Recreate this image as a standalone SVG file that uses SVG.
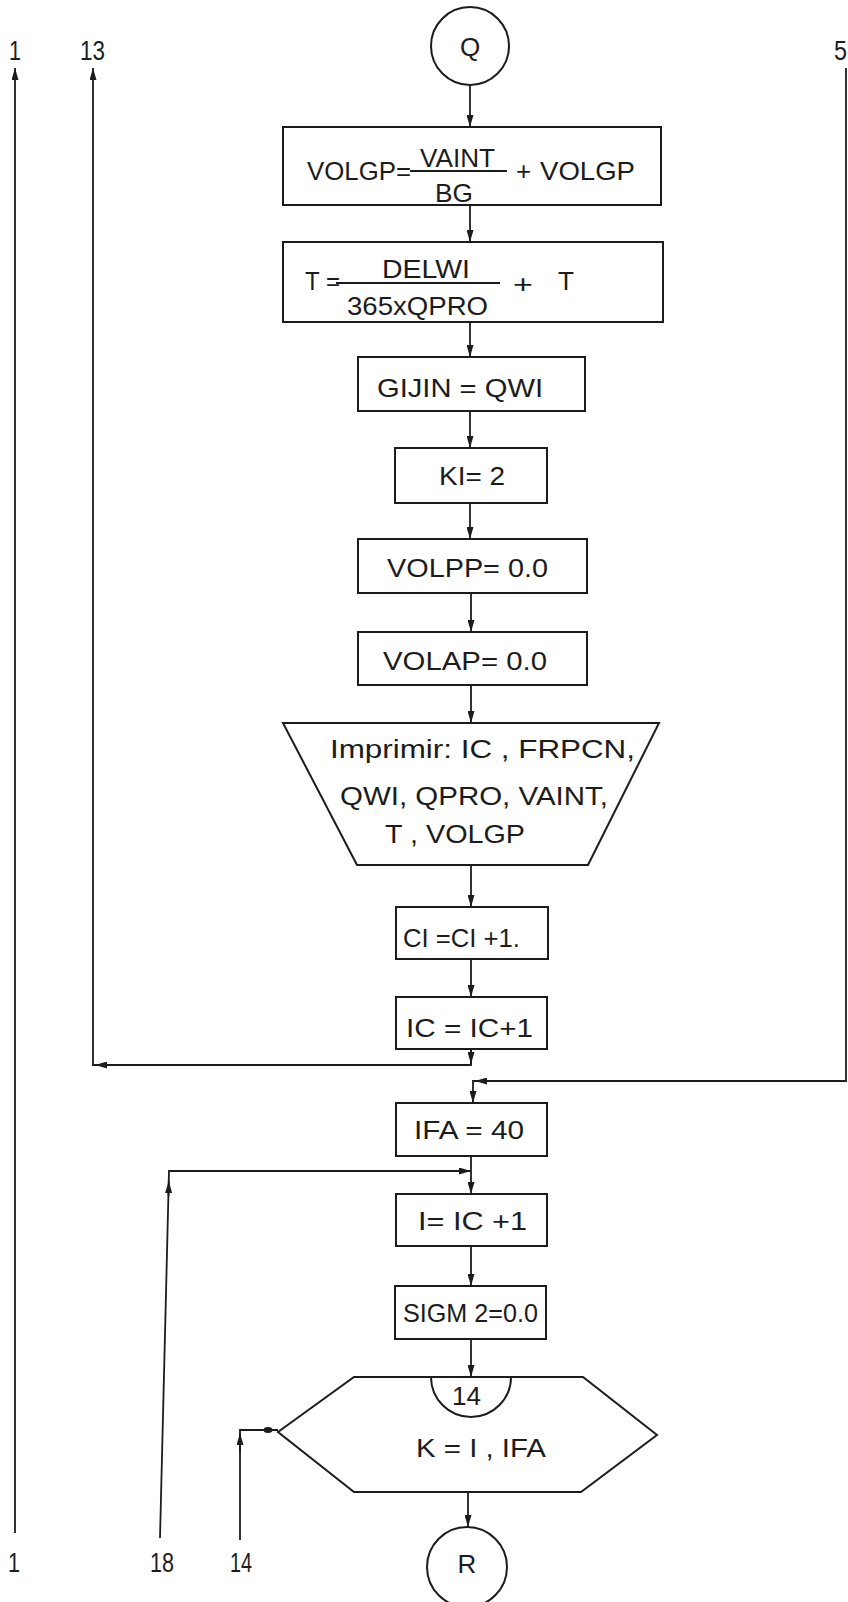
<svg xmlns="http://www.w3.org/2000/svg" width="848" height="1602" viewBox="0 0 848 1602">
<style>
.b{fill:none;stroke:#1c1c1c;stroke-width:2}
.c{fill:none;stroke:#1c1c1c;stroke-width:1.8}
.t{font-family:"Liberation Sans",Arial,sans-serif;font-size:26px;fill:#1c1c1c}
.l{font-family:"Liberation Sans",Arial,sans-serif;font-size:27px;fill:#1c1c1c}
</style>
<defs>
<marker id="ah" viewBox="0 0 12 7" refX="12" refY="3.5" markerWidth="12" markerHeight="7" markerUnits="userSpaceOnUse" orient="auto">
<path d="M0,0 L12,3.5 L0,7 z" fill="#1c1c1c"/>
</marker>
</defs>
<rect width="848" height="1602" fill="#fff"/>

<g id="connectors">
<path class="c" d="M470,85 V127" marker-end="url(#ah)"/>
<path class="c" d="M470,205 V242" marker-end="url(#ah)"/>
<path class="c" d="M470,322 V357" marker-end="url(#ah)"/>
<path class="c" d="M470,411 V448" marker-end="url(#ah)"/>
<path class="c" d="M470,503 V539" marker-end="url(#ah)"/>
<path class="c" d="M471,593 V632" marker-end="url(#ah)"/>
<path class="c" d="M471,685 V723" marker-end="url(#ah)"/>
<path class="c" d="M471,865 V907" marker-end="url(#ah)"/>
<path class="c" d="M471,959 V997" marker-end="url(#ah)"/>
<path class="c" d="M471,1049 V1065 H93 V68" marker-end="url(#ah)"/>
<path class="c" d="M471,1050 V1064" marker-end="url(#ah)"/>
<path class="c" d="M118,1065 H95" marker-end="url(#ah)"/>
<path class="c" d="M846,68 V1081 H473 V1103" marker-end="url(#ah)"/>
<path class="c" d="M500,1081 H475" marker-end="url(#ah)"/>
<path class="c" d="M471,1156 V1194" marker-end="url(#ah)"/>
<path class="c" d="M160,1538 L169,1171 H471" marker-end="url(#ah)"/>
<path class="c" d="M168.5,1196 L168.8,1181" marker-end="url(#ah)"/>
<path class="c" d="M471,1246 V1286" marker-end="url(#ah)"/>
<path class="c" d="M471,1339 V1377" marker-end="url(#ah)"/>
<path class="c" d="M240,1540 V1430 H278"/>
<path class="c" d="M240,1452 V1433" marker-end="url(#ah)"/>
<ellipse cx="268" cy="1430" rx="4.5" ry="3" fill="#1c1c1c"/>
<path class="c" d="M468,1492 V1527" marker-end="url(#ah)"/>
<path class="c" d="M15,1533 V68" marker-end="url(#ah)"/>
</g>

<g id="labels">
<text class="l" x="9" y="60" textLength="12" lengthAdjust="spacingAndGlyphs">1</text>
<text class="l" x="80" y="60" textLength="25" lengthAdjust="spacingAndGlyphs">13</text>
<text class="l" x="834" y="60" textLength="13" lengthAdjust="spacingAndGlyphs">5</text>
<text class="l" x="8" y="1572" textLength="12" lengthAdjust="spacingAndGlyphs">1</text>
<text class="l" x="150" y="1572" textLength="24" lengthAdjust="spacingAndGlyphs">18</text>
<text class="l" x="230" y="1572" textLength="22" lengthAdjust="spacingAndGlyphs">14</text>
</g>

<g id="node-Q">
<circle class="b" cx="470" cy="46" r="39"/>
<text class="t" x="470" y="56" text-anchor="middle">Q</text>
</g>

<g id="node-volgp">
<rect class="b" x="283" y="127" width="378" height="78"/>
<text class="t" x="307" y="180" font-size="29" textLength="104" lengthAdjust="spacingAndGlyphs">VOLGP=</text>
<text class="t" x="420" y="167" font-size="29" textLength="75" lengthAdjust="spacingAndGlyphs">VAINT</text>
<line class="c" x1="410" y1="171" x2="507" y2="171"/>
<text class="t" x="435" y="202" font-size="27" textLength="38" lengthAdjust="spacingAndGlyphs">BG</text>
<text class="t" x="516" y="180" font-size="26">+</text>
<text class="t" x="540" y="180" font-size="29" textLength="95" lengthAdjust="spacingAndGlyphs">VOLGP</text>
</g>

<g id="node-t">
<rect class="b" x="283" y="242" width="380" height="80"/>
<text class="t" x="305" y="290" font-size="28" textLength="35" lengthAdjust="spacingAndGlyphs">T =</text>
<line class="c" x1="336" y1="283" x2="500" y2="283"/>
<text class="t" x="382" y="278" font-size="28" textLength="88" lengthAdjust="spacingAndGlyphs">DELWI</text>
<text class="t" x="347" y="315" font-size="26" textLength="141" lengthAdjust="spacingAndGlyphs">365xQPRO</text>
<text class="t" x="513" y="293" font-size="28" textLength="20" lengthAdjust="spacingAndGlyphs">+</text>
<text class="t" x="558" y="290" font-size="28" textLength="16" lengthAdjust="spacingAndGlyphs">T</text>
</g>

<g id="node-giijn">
<rect class="b" x="358" y="357" width="227" height="54"/>
<text class="t" x="377" y="397" font-size="28" textLength="166" lengthAdjust="spacingAndGlyphs">GIJIN = QWI</text>
</g>

<g id="node-ki">
<rect class="b" x="395" y="448" width="152" height="55"/>
<text class="t" x="439" y="485" textLength="66" lengthAdjust="spacingAndGlyphs">KI= 2</text>
</g>

<g id="node-volpp">
<rect class="b" x="358" y="539" width="229" height="54"/>
<text class="t" x="387" y="577" textLength="161" lengthAdjust="spacingAndGlyphs">VOLPP= 0.0</text>
</g>

<g id="node-volap">
<rect class="b" x="358" y="632" width="229" height="53"/>
<text class="t" x="383" y="670" textLength="164" lengthAdjust="spacingAndGlyphs">VOLAP= 0.0</text>
</g>

<g id="node-imprimir">
<polygon class="b" points="283,723 659,723 588,865 357,865"/>
<text class="t" x="330" y="758" textLength="305" lengthAdjust="spacingAndGlyphs">Imprimir: IC , FRPCN,</text>
<text class="t" x="340" y="805" textLength="268" lengthAdjust="spacingAndGlyphs">QWI, QPRO, VAINT,</text>
<text class="t" x="385" y="843" textLength="140" lengthAdjust="spacingAndGlyphs">T , VOLGP</text>
</g>

<g id="node-ci">
<rect class="b" x="396" y="907" width="152" height="52"/>
<text class="t" x="403" y="947" textLength="117" lengthAdjust="spacingAndGlyphs">CI =CI +1.</text>
</g>

<g id="node-ic">
<rect class="b" x="396" y="997" width="151" height="52"/>
<text class="t" x="406" y="1037" textLength="127" lengthAdjust="spacingAndGlyphs">IC = IC+1</text>
</g>

<g id="node-ifa">
<rect class="b" x="396" y="1103" width="151" height="53"/>
<text class="t" x="414" y="1139" textLength="110" lengthAdjust="spacingAndGlyphs">IFA = 40</text>
</g>

<g id="node-i">
<rect class="b" x="396" y="1194" width="151" height="52"/>
<text class="t" x="418" y="1230" textLength="109" lengthAdjust="spacingAndGlyphs">I= IC +1</text>
</g>

<g id="node-sigm">
<rect class="b" x="395" y="1286" width="151" height="53"/>
<text class="t" x="403" y="1322" textLength="135" lengthAdjust="spacingAndGlyphs">SIGM 2=0.0</text>
</g>

<g id="node-loop">
<polygon class="b" points="354,1377 583,1377 657,1435 581,1492 354,1492 278,1432"/>
<path class="b" d="M431,1377 A40,40 0 0 0 511,1377"/>
<text class="t" x="452" y="1405" textLength="29" lengthAdjust="spacingAndGlyphs">14</text>
<text class="t" x="416" y="1457" textLength="130" lengthAdjust="spacingAndGlyphs">K = I , IFA</text>
</g>

<g id="node-R">
<circle class="b" cx="467" cy="1567" r="40"/>
<text class="t" x="467" y="1573" text-anchor="middle">R</text>
</g>
</svg>
